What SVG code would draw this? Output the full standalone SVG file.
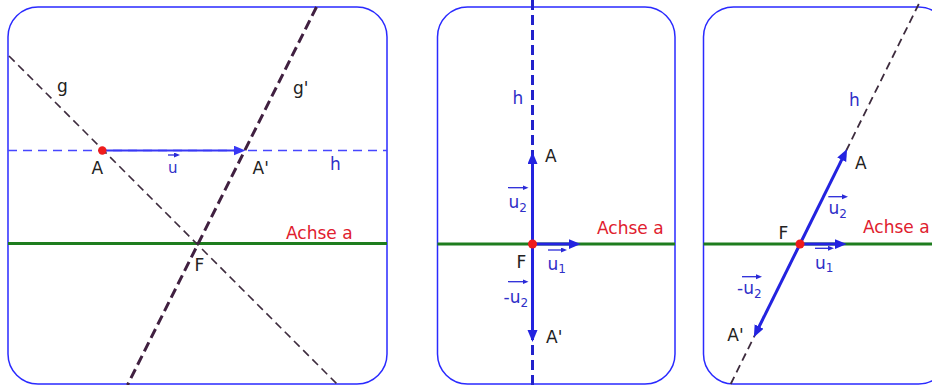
<svg xmlns="http://www.w3.org/2000/svg" width="932" height="385" viewBox="0 0 932 385">
<defs>
<style>
.panel{fill:#fff;stroke:#2a2aff;stroke-width:1.5}
.axis{stroke:#1e7d1e;stroke-width:3}
.gline{stroke:#3d2b3d;stroke-width:1.6;stroke-dasharray:8 5;fill:none}
.gpline{stroke:#402040;stroke-width:3;stroke-dasharray:10 5;fill:none}
.hdash{stroke:#4646ff;stroke-width:1.5;stroke-dasharray:9 6;fill:none}
.hdash2{stroke:#2222cc;stroke-width:3;stroke-dasharray:10 5;fill:none}
.hdash3{stroke:#3d2b3d;stroke-width:1.8;stroke-dasharray:8 5;fill:none}
.vec{stroke:#2323e0;stroke-width:3;fill:none;marker-end:url(#ah)}
.vecl{stroke:#3838f5;stroke-width:2;fill:none;marker-end:url(#ahl)}
.ov{stroke:#2a2ad8;stroke-width:1.3;fill:none;marker-end:url(#sm)}
.dot{fill:#ee1c1c}
text{font-family:"DejaVu Sans","Liberation Sans",sans-serif;font-size:17px}
.blk{fill:#222}
.blu{fill:#3030c8}
.red{fill:#e0202e}
.sub{font-size:12px}
</style>
<marker id="ah" markerUnits="userSpaceOnUse" markerWidth="14" markerHeight="12" refX="6" refY="5" orient="auto"><path d="M0,0 L12,5 L0,10 z" fill="#2323e0"/></marker>
<marker id="ahl" markerUnits="userSpaceOnUse" markerWidth="14" markerHeight="12" refX="6" refY="5" orient="auto"><path d="M0,0 L12,5 L0,10 z" fill="#3838f5"/></marker>
<marker id="sm" markerUnits="userSpaceOnUse" markerWidth="8" markerHeight="6" refX="3" refY="2.5" orient="auto"><path d="M0,0 L6,2.5 L0,5 z" fill="#2a2ad8"/></marker>
</defs>

<!-- Panel 1 -->
<g id="panel1">
<rect class="panel" x="8" y="7" width="379" height="377" rx="30" ry="30"/>
<g id="connectors1">
<line class="axis" x1="8" y1="243.5" x2="387" y2="243.5"/>
<line class="hdash" x1="8" y1="150.5" x2="387" y2="150.5"/>
<line class="gline" x1="9" y1="56" x2="338" y2="385"/>
<line class="gpline" x1="316.5" y1="7" x2="127.5" y2="385"/>
<line class="vecl" x1="102.3" y1="150.5" x2="239.5" y2="150.5"/>
</g>
<circle class="dot" cx="102.3" cy="150.5" r="4.2"/>
<text class="blk" x="57" y="92">g</text>
<text class="blk" x="293" y="94">g'</text>
<text class="blk" x="91.5" y="174">A</text>
<line class="ov" x1="168" y1="155" x2="177" y2="155"/>
<text class="blu" x="168" y="172.5" style="font-size:15px">u</text>
<text class="blk" x="252.5" y="174">A'</text>
<text class="blu" x="330" y="170">h</text>
<text class="red" x="286" y="238.5">Achse a</text>
<text class="blk" x="194.5" y="270.5">F</text>
</g>

<!-- Panel 2 -->
<g id="panel2">
<rect class="panel" x="437.5" y="7" width="237.5" height="377" rx="30" ry="30"/>
<g id="connectors2">
<line class="axis" x1="437.5" y1="244" x2="675" y2="244"/>
<line class="hdash2" x1="532.5" y1="0" x2="532.5" y2="385"/>
<line class="vec" x1="532.5" y1="244" x2="532.5" y2="158"/>
<line class="vec" x1="532.5" y1="244" x2="532.5" y2="336"/>
<line class="vec" x1="532.5" y1="244" x2="574.7" y2="244"/>
</g>
<circle class="dot" cx="532.5" cy="244" r="4.5"/>
<text class="blu" x="512.5" y="104">h</text>
<text class="blk" x="545" y="162">A</text>
<line class="ov" x1="508" y1="187.7" x2="525.5" y2="187.7"/>
<text class="blu" x="508.5" y="208">u<tspan class="sub" dy="3.5">2</tspan></text>
<text class="red" x="597" y="234">Achse a</text>
<text class="blk" x="516.5" y="267.5">F</text>
<line class="ov" x1="548" y1="250" x2="564" y2="250"/>
<text class="blu" x="547.5" y="270">u<tspan class="sub" dy="3">1</tspan></text>
<line class="ov" x1="508" y1="281.7" x2="525.5" y2="281.7"/>
<text class="blu" x="503.5" y="303">-u<tspan class="sub" dy="3.5">2</tspan></text>
<text class="blk" x="546" y="343">A'</text>
</g>

<!-- Panel 3 -->
<g id="panel3">
<rect class="panel" x="703.5" y="7" width="245" height="377" rx="30" ry="30"/>
<g id="connectors3">
<line class="axis" x1="703.5" y1="244" x2="932" y2="244"/>
<line class="hdash3" x1="918.8" y1="4" x2="730.2" y2="385"/>
<line class="vec" x1="800" y1="244" x2="844.4" y2="154.4"/>
<line class="vec" x1="800" y1="244" x2="756.5" y2="331.9"/>
<line class="vec" x1="800" y1="244" x2="840.7" y2="244"/>
</g>
<circle class="dot" cx="800" cy="244" r="4.5"/>
<text class="blu" x="849" y="106">h</text>
<text class="blk" x="855" y="169">A</text>
<line class="ov" x1="828.3" y1="196.7" x2="845" y2="196.7"/>
<text class="blu" x="828.5" y="214">u<tspan class="sub" dy="4">2</tspan></text>
<text class="blk" x="778.5" y="239">F</text>
<text class="red" x="863" y="233">Achse a</text>
<line class="ov" x1="815" y1="248.3" x2="831" y2="248.3"/>
<text class="blu" x="815" y="269">u<tspan class="sub" dy="3">1</tspan></text>
<line class="ov" x1="742" y1="276.7" x2="759" y2="276.7"/>
<text class="blu" x="737" y="294">-u<tspan class="sub" dy="4">2</tspan></text>
<text class="blk" x="727.3" y="341">A'</text>
</g>
</svg>
